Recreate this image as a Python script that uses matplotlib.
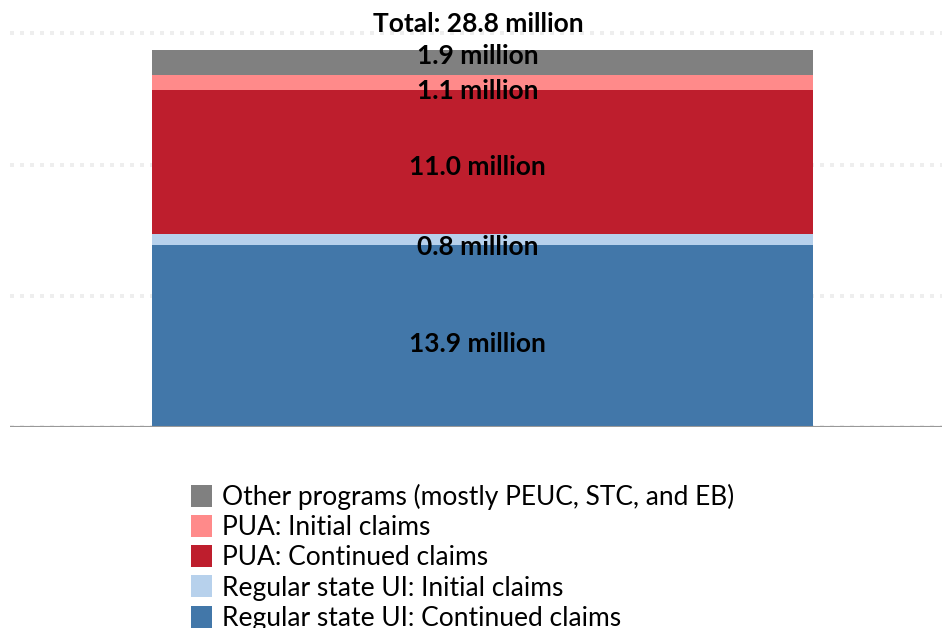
import matplotlib
matplotlib.use("Agg")
import matplotlib.pyplot as plt
from matplotlib.patches import Patch

categories = ["All programs"]
series_names = [
    "Regular state UI: Continued claims",
    "Regular state UI: Initial claims",
    "PUA: Continued claims",
    "PUA: Initial claims",
    "Other programs (mostly PEUC, STC, and EB)",
]
values = [13.9, 0.8, 11.0, 1.1, 1.9]
total = 28.8
colors = ["#4277a9", "#b7d1ec", "#be1e2d", "#ff8a8a", "#808080"]
label_offsets = [-8, -7, -5, -8, 7]  # vertical nudge in pixels
grid_values = [0, 10, 20, 30]

plt.rcParams['font.family'] = ['Lato', 'DejaVu Sans']

W, H = 942, 628
fig = plt.figure(figsize=(W / 100, H / 100), dpi=100)
base_y = 427.3
ax = fig.add_axes([10 / W, 1 - base_y / H, 932 / W, base_y / H])
ax.set_ylim(0, base_y / 13.13)
bar_w = 0.709
ax.set_xlim(-0.507, 0.493)

for g in grid_values:
    ax.axhline(g, color="#eeeeee", lw=2.88, ls=(0, (1.0, 1.5)), zorder=0)

bottom = 0
for v, c, off in zip(values, colors, label_offsets):
    ax.bar(0, v, bottom=bottom, width=bar_w, color=c, zorder=2, linewidth=0)
    ax.annotate(f"{v:.1f} million", xy=(-0.005, bottom + v / 2), xytext=(0, off),
                textcoords="offset pixels", ha="center", va="center",
                fontsize=19, fontweight="bold", color="black", zorder=4)
    bottom += v

ax.annotate(f"Total: {total:.1f} million", xy=(-0.005, bottom), xytext=(0, 26),
            textcoords="offset pixels", ha="center", va="center",
            fontsize=19, fontweight="bold", color="black", annotation_clip=False)

ax.axhline(0, color="#999999", lw=1.5, zorder=3)

for s in ax.spines.values():
    s.set_visible(False)
ax.set_xticks([])
ax.set_yticks([])

handles = [Patch(facecolor=c, edgecolor="none") for c in colors[::-1]]
fig.legend(handles, series_names[::-1], loc="upper left",
           bbox_to_anchor=(191 / W, 1 - 484 / H), frameon=False,
           fontsize=19, handlelength=0.8, handleheight=0.91,
           handletextpad=0.38, labelspacing=0.19, borderaxespad=0,
           borderpad=0)

fig.savefig("out.png", dpi=100)
